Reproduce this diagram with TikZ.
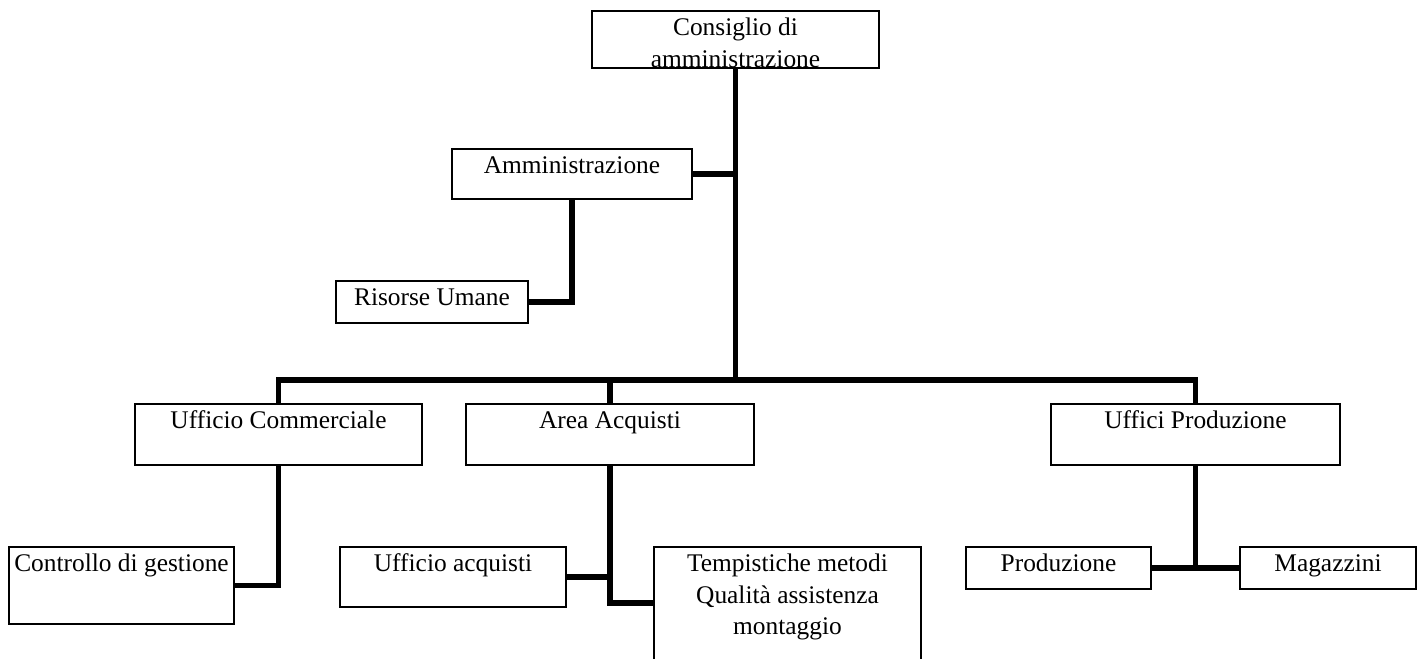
\documentclass[tikz,border=0pt]{standalone}
\usepackage{fontspec}
\setmainfont{Liberation Serif}
\newdimen\unitpx \unitpx=0.5pt
\newcommand{\mybox}[3]{\parbox[c][#2\unitpx][t]{#1\unitpx}{\fontsize{12.7}{15.75}\selectfont\centering\rule{0pt}{12.4pt}#3}}
\begin{document}
\begin{tikzpicture}[x=0.5pt,y=-0.5pt,
  box/.style={draw, line width=0.8pt, inner sep=0pt, outer sep=0pt},
  conn/.style={line width=2.6pt}]
\useasboundingbox (0,0) rectangle (1417,658);
\clip (0,0) rectangle (1417,658);
\node[box] (cda) at (735.5,39.5) {\mybox{287}{57}{Consiglio di\\amministrazione}};
\node[box] (amm) at (572,174) {\mybox{240}{50}{Amministrazione}};
\node[box] (ris) at (432,302) {\mybox{192}{42}{Risorse Umane}};
\node[box] (uc) at (278.5,434.5) {\mybox{287}{61}{Ufficio Commerciale}};
\node[box] (aa) at (610,434.5) {\mybox{288}{61}{Area Acquisti}};
\node[box] (up) at (1195.5,434.5) {\mybox{289}{61}{Uffici Produzione}};
\node[box] (ctrl) at (121.5,585.5) {\mybox{225}{77}{Controllo di gestione}};
\node[box] (ua) at (453,577) {\mybox{226}{60}{Ufficio acquisti}};
\node[box] (temp) at (787.5,604) {\mybox{267}{114}{Tempistiche metodi\\Qualità assistenza\\montaggio}};
\node[box] (prod) at (1058.5,568) {\mybox{185}{42}{Produzione}};
\node[box] (mag) at (1328,568) {\mybox{176}{42}{Magazzini}};
\coordinate (bus) at (735.5,380);
\coordinate (tempin) at (654,603);
\draw[conn] (cda.south) -- (bus);
\draw[conn] (uc.north) |- (bus) -| (up.north);
\draw[conn] (aa.north) -- (aa.north |- bus);
\draw[conn] (amm.east) -- (amm.east -| cda.south);
\draw[conn] (amm.south) |- (ris.east);
\draw[conn] (uc.south) |- (ctrl.east);
\draw[conn] (aa.south) |- (tempin);
\draw[conn] (ua.east) -- (ua.east -| aa.south);
\draw[conn] (up.south) -- (up.south |- prod.east);
\draw[conn] (prod.east) -- (mag.west);
\end{tikzpicture}
\end{document}
